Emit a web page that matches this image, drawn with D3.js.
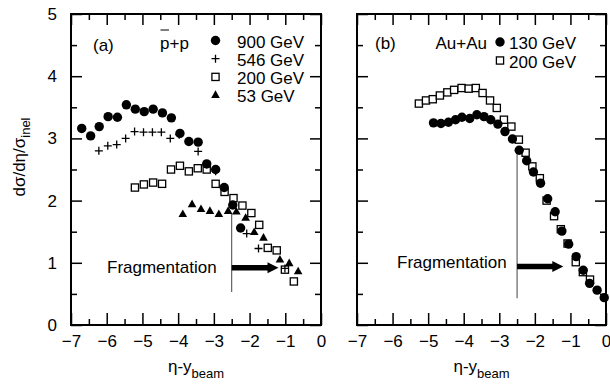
<!DOCTYPE html>
<html>
<head>
<meta charset="utf-8">
<script src="https://cdn.jsdelivr.net/npm/d3@7"></script>
<style>
  body { margin: 0; background: #fff; }
  svg text { font-family: "Liberation Sans", Arial, sans-serif; fill: #000; }
</style>
</head>
<body>
<svg width="610" height="389"></svg>
<script>
(function() {

  // panel (a): pbar+p
  var pp900x = [-6.70, -6.45, -6.21, -5.96, -5.70, -5.45, -5.20, -4.95, -4.70, -4.44, -4.19, -3.95, -3.70, -3.44, -3.20, -2.95, -2.71, -2.47, -2.25];
  var pp900y = [3.16, 3.04, 3.19, 3.35, 3.34, 3.54, 3.47, 3.43, 3.47, 3.41, 3.33, 3.08, 2.95, 2.94, 2.59, 2.50, 2.21, 1.93, 1.56];
  var pp546x = [-6.22, -5.97, -5.72, -5.47, -5.22, -4.97, -4.72, -4.47, -4.22, -3.97, -3.44, -3.20, -2.95, -2.08, -1.75, -1.01];
  var pp546y = [2.80, 2.88, 2.90, 3.00, 3.11, 3.10, 3.10, 3.10, 3.00, 3.06, 2.79, 2.58, 2.47, 1.47, 1.23, 0.91];
  var pp200x = [-5.21, -4.96, -4.70, -4.45, -4.20, -3.95, -3.70, -3.45, -3.20, -2.95, -2.70, -2.45, -2.20, -1.95, -1.73, -1.49, -1.24, -1.01, -0.76];
  var pp200y = [2.21, 2.26, 2.29, 2.27, 2.50, 2.56, 2.47, 2.52, 2.50, 2.27, 2.14, 2.04, 1.92, 1.80, 1.61, 1.24, 1.20, 0.89, 0.70];
  var pp53x = [-3.87, -3.61, -3.36, -3.11, -2.86, -2.60, -2.37, -2.11, -1.87, -1.61, -1.15, -0.89, -0.64];
  var pp53y = [1.78, 1.94, 1.86, 1.83, 1.78, 1.83, 1.82, 1.72, 1.49, 1.40, 1.05, 0.99, 0.86];

  // panel (b): Au+Au
  var au130x = [-4.85, -4.64, -4.43, -4.23, -4.05, -3.83, -3.63, -3.43, -3.24, -3.04, -2.84, -2.63, -2.44, -2.23, -2.04, -1.84, -1.64, -1.43, -1.24, -1.05, -0.84, -0.64, -0.46, -0.25, -0.05];
  var au130y = [3.25, 3.24, 3.26, 3.30, 3.34, 3.32, 3.38, 3.35, 3.30, 3.23, 3.11, 2.99, 2.81, 2.64, 2.46, 2.28, 2.03, 1.82, 1.51, 1.30, 1.10, 0.88, 0.67, 0.56, 0.44];
  var au200x = [-5.26, -5.06, -4.87, -4.67, -4.46, -4.27, -4.06, -3.86, -3.66, -3.47, -3.26, -3.07, -2.87, -2.66, -2.45, -2.26, -2.07, -1.86, -1.67, -1.46, -1.27, -1.08, -0.85, -0.65, -0.45];
  var au200y = [3.56, 3.61, 3.63, 3.69, 3.74, 3.78, 3.81, 3.80, 3.81, 3.73, 3.61, 3.49, 3.30, 3.19, 2.98, 2.77, 2.55, 2.36, 2.00, 1.75, 1.54, 1.31, 1.01, 0.85, 0.73];

  var xMajor = [-7, -6, -5, -4, -3, -2, -1, 0];
  var xMinor = [-6.5, -5.5, -4.5, -3.5, -2.5, -1.5, -0.5];
  var yMajor = [0, 1, 2, 3, 4, 5];
  var yMinor = [0.5, 1.5, 2.5, 3.5, 4.5];

  var legendA = ["900 GeV", "546 GeV", "200 GeV", "53 GeV"];
  var legendB = ["130 GeV", "200 GeV"];

  var svg = d3.select('svg');

  var y = d3.scaleLinear().domain([0, 5]).range([325, 14]);
  var xA = d3.scaleLinear().domain([-7, 0]).range([71, 321]);
  var xB = d3.scaleLinear().domain([-7, 0]).range([357, 606]);

  var zip = function(xs, ys) {
    return xs.map(function(v, i) { return {x: v, y: ys[i]}; });
  };

  // marker shapes
  var markers = {
    circle: function(g) {
      g.append('circle').attr('r', 4.7).attr('fill', '#000');
    },
    plus: function(g) {
      g.append('path').attr('d', 'M-4,0H4M0,-4V4')
        .attr('stroke', '#000').attr('stroke-width', 1.3).attr('fill', 'none');
    },
    square: function(g) {
      g.append('rect').attr('x', -3.6).attr('y', -3.6).attr('width', 7.2).attr('height', 7.2)
        .attr('fill', '#fff').attr('stroke', '#000').attr('stroke-width', 1.3);
    },
    triangle: function(g) {
      g.append('path').attr('d', 'M0,-4.8L4.3,2.8L-4.3,2.8Z').attr('fill', '#000');
    }
  };

  var drawFrame = function(x, showLabels) {
    var g = svg.append('g');
    var x0 = x.range()[0], x1 = x.range()[1];

    g.append('g').attr('transform', 'translate(0,325)')
      .call(d3.axisBottom(x).tickValues(xMajor).tickSizeInner(-12).tickSizeOuter(0).tickPadding(10)
        .tickFormat(d3.format('d')));
    g.append('g').attr('transform', 'translate(0,325)')
      .call(d3.axisBottom(x).tickValues(xMinor).tickSizeInner(-6).tickSizeOuter(0).tickFormat(''));
    g.append('g').attr('transform', 'translate(0,14)')
      .call(d3.axisTop(x).tickValues(xMajor).tickSizeInner(-11).tickSizeOuter(0).tickFormat(''));
    g.append('g').attr('transform', 'translate(0,14)')
      .call(d3.axisTop(x).tickValues(xMinor).tickSizeInner(-6).tickSizeOuter(0).tickFormat(''));

    var left = d3.axisLeft(y).tickValues(yMajor).tickSizeInner(-11).tickSizeOuter(0).tickPadding(14)
      .tickFormat(showLabels ? d3.format('d') : '');
    g.append('g').attr('transform', 'translate(' + x0 + ',0)').call(left);
    g.append('g').attr('transform', 'translate(' + x0 + ',0)')
      .call(d3.axisLeft(y).tickValues(yMinor).tickSizeInner(-6).tickSizeOuter(0).tickFormat(''));
    g.append('g').attr('transform', 'translate(' + x1 + ',0)')
      .call(d3.axisRight(y).tickValues(yMajor).tickSizeInner(-11).tickSizeOuter(0).tickFormat(''));
    g.append('g').attr('transform', 'translate(' + x1 + ',0)')
      .call(d3.axisRight(y).tickValues(yMinor).tickSizeInner(-6).tickSizeOuter(0).tickFormat(''));

    g.selectAll('.domain').remove();
    g.selectAll('.tick line').attr('stroke', '#000').attr('stroke-width', 1.5);
    g.selectAll('.tick text').style('font-size', '17px').attr('fill', '#000');

    g.append('rect')
      .attr('x', x0).attr('y', 14).attr('width', x1 - x0).attr('height', 325 - 14)
      .attr('fill', 'none').attr('stroke', '#000').attr('stroke-width', 2);

    // x label
    var t = g.append('text').attr('x', x(-3.5)).attr('y', 372)
      .attr('text-anchor', 'middle').style('font-size', '17px');
    t.append('tspan').text('η-y');
    t.append('tspan').attr('dy', 6).style('font-size', '13px').text('beam');
  };

  var drawSeries = function(x, data, shape) {
    svg.append('g').selectAll('g').data(data).enter()
      .append('g')
      .attr('transform', function(d) { return 'translate(' + x(d.x) + ',' + y(d.y) + ')'; })
      .each(function() { markers[shape](d3.select(this)); });
  };

  var drawFragmentation = function(x, lineTop, lineBottom, arrowY, arrowEnd, textX, textY) {
    svg.append('line')
      .attr('x1', x(-2.5)).attr('x2', x(-2.5))
      .attr('y1', y(lineTop)).attr('y2', y(lineBottom))
      .attr('stroke', '#444').attr('stroke-width', 1);
    var ax0 = x(-2.5), ax1 = x(arrowEnd), ay = y(arrowY);
    svg.append('path')
      .attr('d', 'M' + ax0 + ',' + (ay - 2.8) + 'L' + (ax1 - 11) + ',' + (ay - 2.8) +
        'L' + (ax1 - 11) + ',' + (ay - 5.5) + 'L' + ax1 + ',' + ay +
        'L' + (ax1 - 11) + ',' + (ay + 5.5) + 'L' + (ax1 - 11) + ',' + (ay + 2.8) +
        'L' + ax0 + ',' + (ay + 2.8) + 'Z')
      .attr('fill', '#000');
    svg.append('text').attr('x', textX).attr('y', textY)
      .style('font-size', '17px').text('Fragmentation');
  };

  drawFrame(xA, true);
  drawFrame(xB, false);

  // y label
  var yl = svg.append('text')
    .attr('transform', 'translate(25,157) rotate(-90)')
    .attr('text-anchor', 'middle').style('font-size', '17px');
  yl.append('tspan').text('dσ/dη/σ');
  yl.append('tspan').attr('dy', 5).style('font-size', '13px').text('inel');

  drawFragmentation(xA, 1.8, 0.53, 0.92, -1.19, 107, 273);
  drawFragmentation(xB, 2.81, 0.43, 0.94, -1.2, 397, 268);

  drawSeries(xA, zip(pp53x, pp53y), 'triangle');
  drawSeries(xA, zip(pp200x, pp200y), 'square');
  drawSeries(xA, zip(pp546x, pp546y), 'plus');
  drawSeries(xA, zip(pp900x, pp900y), 'circle');

  drawSeries(xB, zip(au200x, au200y), 'square');
  drawSeries(xB, zip(au130x, au130y), 'circle');

  // panel (a) labels and legend
  svg.append('text').attr('x', 93).attr('y', 51).style('font-size', '17px').text('(a)');
  var pbar = svg.append('text').attr('x', 160).attr('y', 49).style('font-size', '17px').text('p');
  var pw = pbar.node().getComputedTextLength();
  svg.append('text').attr('x', 160 + pw).attr('y', 49).style('font-size', '17px').text('+p');
  svg.append('line').attr('x1', 160.5).attr('x2', 160 + pw - 0.5).attr('y1', 30).attr('y2', 30)
    .attr('stroke', '#000').attr('stroke-width', 1);

  var shapesA = ['circle', 'plus', 'square', 'triangle'];
  var legA = svg.append('g').selectAll('g').data(legendA).enter().append('g')
    .attr('transform', function(d, i) { return 'translate(0,' + (41.5 + i * 18.2) + ')'; });
  legA.each(function(d, i) {
    var g = d3.select(this);
    var m = g.append('g').attr('transform', 'translate(215.5,-1)');
    markers[shapesA[i]](m);
    g.append('text').attr('x', 237).attr('dy', '0.36em').style('font-size', '17px').text(d);
  });

  // panel (b) labels and legend
  svg.append('text').attr('x', 375).attr('y', 49).style('font-size', '17px').text('(b)');
  svg.append('text').attr('x', 487).attr('y', 49).attr('text-anchor', 'end')
    .style('font-size', '17px').text('Au+Au');
  var shapesB = ['circle', 'square'];
  var legB = svg.append('g').selectAll('g').data(legendB).enter().append('g')
    .attr('transform', function(d, i) { return 'translate(0,' + (43 + i * 18.5) + ')'; });
  legB.each(function(d, i) {
    var g = d3.select(this);
    var m = g.append('g').attr('transform', 'translate(500,-1)');
    markers[shapesB[i]](m);
    g.append('text').attr('x', 509).attr('dy', '0.36em').style('font-size', '17px').text(d);
  });

})();
</script>
</body>
</html>
